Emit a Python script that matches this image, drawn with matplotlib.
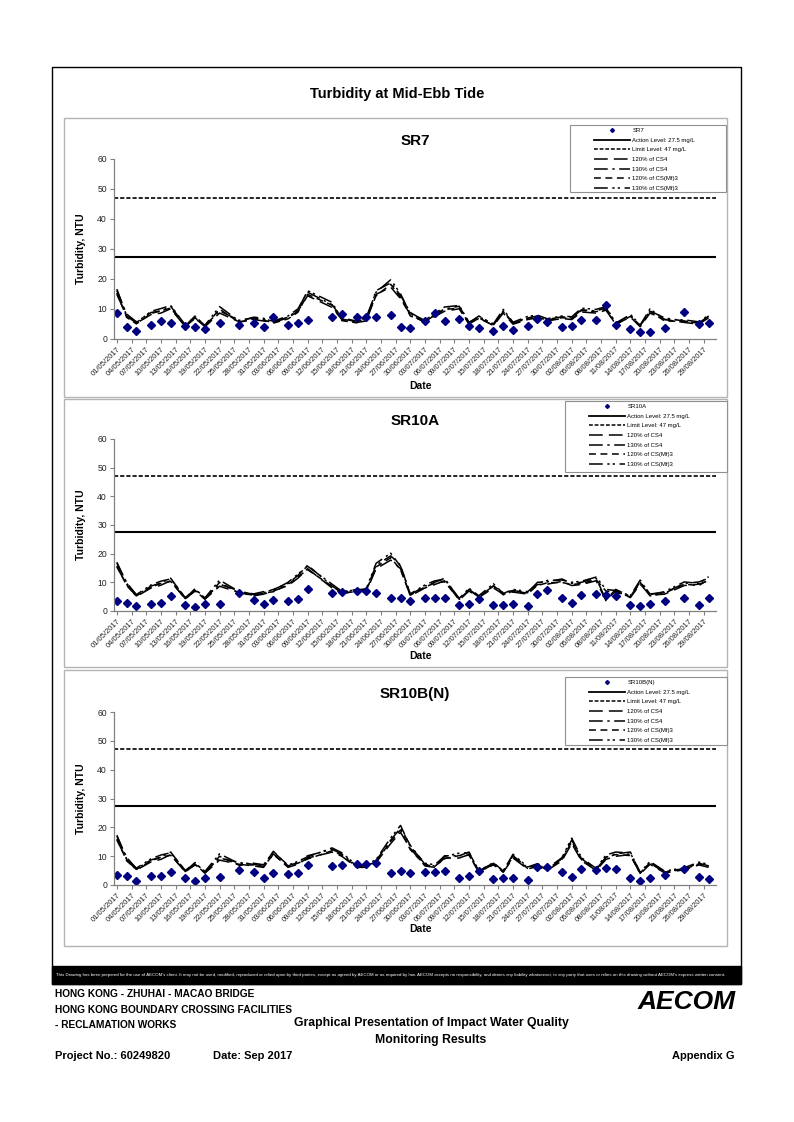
import datetime as dt
import numpy as np
import matplotlib
matplotlib.use('Agg')
import matplotlib.pyplot as plt
import matplotlib.dates as mdates
from matplotlib.lines import Line2D
from matplotlib.patches import Rectangle

plt.rcParams['font.family'] = ['Liberation Sans', 'DejaVu Sans']

# Monitoring dates (mid-ebb tide)
sample_dates = ['01/05/2017', '03/05/2017', '05/05/2017', '08/05/2017', '10/05/2017', '12/05/2017',
                '15/05/2017', '17/05/2017', '19/05/2017', '22/05/2017', '26/05/2017', '29/05/2017',
                '31/05/2017', '02/06/2017', '05/06/2017', '07/06/2017', '09/06/2017', '14/06/2017',
                '16/06/2017', '19/06/2017', '21/06/2017', '23/06/2017', '26/06/2017', '28/06/2017',
                '30/06/2017', '03/07/2017', '05/07/2017', '07/07/2017', '10/07/2017', '12/07/2017',
                '14/07/2017', '17/07/2017', '19/07/2017', '21/07/2017', '24/07/2017', '26/07/2017',
                '28/07/2017', '31/07/2017', '02/08/2017', '04/08/2017', '07/08/2017', '09/08/2017',
                '11/08/2017', '14/08/2017', '16/08/2017', '18/08/2017', '21/08/2017', '25/08/2017',
                '28/08/2017', '30/08/2017']

# Turbidity (NTU) at monitoring stations
sr7 = [8.7, 4.1, 2.8, 4.8, 5.9, 5.4, 4.5, 4.1, 3.2, 5.2, 4.6, 5.2, 3.9, 7.5, 4.8, 5.5, 6.5, 7.2, 8.2, 7.2,
       7.2, 7.5, 8.0, 3.9, 3.6, 5.9, 8.7, 5.9, 6.7, 4.5, 3.8, 2.6, 4.3, 3.0, 4.5, 6.7, 5.7, 4.1, 4.3, 6.4,
       6.5, 11.4, 4.6, 3.2, 2.2, 2.5, 3.7, 9.0, 5.1, 5.5]
sr10a = [3.6, 2.8, 1.9, 2.6, 2.7, 5.1, 2.2, 1.3, 2.5, 2.5, 6.4, 3.7, 2.6, 3.7, 3.4, 4.1, 7.6, 6.4, 6.8, 6.9,
         7.1, 6.4, 4.6, 4.6, 3.6, 4.6, 4.6, 4.7, 2.2, 2.6, 4.1, 2.2, 2.2, 2.6, 1.9, 6.1, 7.2, 4.4, 2.8, 5.5,
         6.1, 5.6, 5.4, 2.2, 1.6, 2.3, 3.4, 4.6, 2.2, 4.6]
sr10bn = [3.4, 3.1, 1.4, 3.0, 3.0, 4.4, 2.5, 1.5, 2.4, 2.7, 5.1, 4.6, 2.5, 4.3, 3.8, 4.3, 6.9, 6.6, 7.1, 7.3,
          7.3, 7.7, 4.3, 4.9, 4.0, 4.6, 4.6, 5.0, 2.5, 3.0, 4.9, 2.2, 2.4, 2.5, 1.8, 6.4, 6.4, 4.4, 2.9, 5.4,
          5.2, 5.8, 5.5, 2.3, 1.5, 2.5, 3.5, 5.5, 2.9, 2.1]

# Control station turbidity (NTU) used for each panel
cs4_sr7 = [12.4, 6.4, 4.4, 6.8, 7.2, 8.4, 3.4, 5.9, 3.4, 7.2, 4.8, 5.4, 5.0, 4.6, 5.9, 7.7, 12.0, 8.8, 5.4, 4.6,
           5.0, 12.4, 14.4, 11.2, 6.8, 4.6, 6.3, 7.7, 8.4, 4.1, 5.9, 3.7, 7.2, 4.1, 5.4, 5.9, 5.0, 5.7, 5.4, 7.5,
           7.2, 8.0, 4.1, 6.1, 3.4, 7.2, 5.4, 4.6, 4.1, 5.9]
csm3_sr7 = [12.8, 6.0, 4.2, 7.1, 7.8, 8.6, 3.6, 5.7, 3.5, 8.3, 4.6, 5.6, 5.3, 4.4, 5.6, 7.4, 12.4, 9.4, 5.1, 4.5,
            5.6, 12.0, 15.2, 11.6, 6.4, 4.8, 6.6, 8.2, 8.6, 4.3, 5.7, 3.9, 7.6, 4.3, 5.8, 6.1, 5.2, 5.9, 5.7, 7.9,
            7.6, 8.3, 4.0, 6.3, 3.6, 7.7, 5.0, 4.9, 4.4, 6.1]
cs4_sr10a = [12.8, 7.7, 4.2, 6.7, 7.5, 8.8, 3.4, 6.0, 3.4, 7.2, 5.4, 4.4, 4.9, 5.8, 7.4, 9.5, 12.3, 6.7, 5.0, 5.8,
             5.6, 12.3, 14.8, 12.3, 4.4, 6.7, 7.7, 8.8, 3.2, 5.8, 3.9, 6.7, 4.9, 5.5, 4.9, 7.7, 7.8, 8.6, 7.4, 7.7,
             8.8, 3.0, 5.8, 3.9, 7.8, 4.6, 4.9, 7.4, 7.8, 8.8]
csm3_sr10a = [13.1, 7.4, 4.4, 7.0, 8.0, 8.6, 3.6, 5.8, 3.5, 8.3, 5.2, 4.6, 5.2, 5.6, 7.7, 9.9, 12.0, 7.2, 5.3, 5.6,
              6.0, 12.8, 15.5, 12.0, 4.6, 7.0, 8.1, 8.5, 3.4, 6.1, 4.1, 7.3, 4.7, 5.8, 5.2, 7.4, 8.2, 8.3, 7.7, 8.0,
              9.1, 5.8, 5.5, 4.1, 8.3, 4.4, 5.2, 7.8, 7.4, 9.2]
cs4_sr10bn = [13.0, 7.4, 4.3, 6.7, 7.4, 8.8, 3.7, 6.0, 3.4, 7.2, 6.0, 5.5, 5.1, 9.0, 5.1, 6.0, 7.8, 9.5, 8.3, 5.1,
              5.1, 6.5, 12.0, 15.2, 10.6, 5.5, 5.1, 7.8, 7.8, 8.8, 3.7, 6.0, 3.7, 7.8, 4.6, 5.4, 4.2, 7.0, 12.0, 7.0,
              4.2, 7.4, 8.3, 8.8, 3.2, 6.0, 3.5, 4.4, 5.8, 5.1]
csm3_sr10bn = [13.3, 7.0, 4.5, 7.0, 8.0, 8.6, 3.9, 5.8, 3.6, 8.3, 5.7, 5.8, 5.4, 8.8, 5.3, 6.3, 7.5, 9.9, 8.6, 5.3,
               5.4, 6.8, 12.6, 15.9, 10.2, 5.8, 5.4, 7.6, 8.5, 8.6, 3.9, 5.8, 3.8, 8.2, 4.8, 5.7, 4.4, 7.3, 12.5, 7.3,
               4.4, 8.0, 8.8, 8.5, 3.4, 6.3, 3.7, 4.6, 6.1, 5.5]

action_level = 27.5
limit_level = 47

dates = [dt.datetime.strptime(s, '%d/%m/%Y') for s in sample_dates]
tick_dates = [dt.datetime(2017, 5, 1) + dt.timedelta(days=3 * i) for i in range(41)]

W, H = 794, 1122
fig = plt.figure(figsize=(W / 100, H / 100), dpi=100)


def fx(px):
    return px / W


def fy(py):
    return 1 - py / H


def frame(x0, y0, x1, y1, **kw):
    fig.add_artist(Rectangle((fx(x0), fy(y1)), (x1 - x0) / W, (y1 - y0) / H,
                             transform=fig.transFigure, **kw))


line_styles = [
    ('120% of CS4', (0, (9, 4))),
    ('130% of CS4', (0, (9, 3, 1.5, 3))),
    ('120% of CS(Mf)3', (0, (4.5, 3))),
    ('130% of CS(Mf)3', (0, (9, 3, 1.5, 2, 1.5, 3))),
]
navy = '#000080'


def draw_panel(name, pts, cs4, csm3, box, ax_px, leg_box, date_y):
    # grey chart frame
    frame(box[0], box[1], box[2], box[3], fill=False, ec='#b4b4b4', lw=1.0)
    ax = fig.add_axes([fx(ax_px[0]), fy(ax_px[3]), (ax_px[2] - ax_px[0]) / W,
                       (ax_px[3] - ax_px[1]) / H])
    ax.axhline(action_level, color='black', lw=1.5)
    ax.axhline(limit_level, color='black', lw=1.2, linestyle=(0, (2.5, 1.2)))
    series = [np.array(cs4) * 1.2, np.array(cs4) * 1.3,
              np.array(csm3) * 1.2, np.array(csm3) * 1.3]
    for (lab, ls), vals in zip(line_styles, series):
        ax.plot(dates, vals, color='black', lw=1.1, linestyle=ls)
    ax.plot(dates, pts, linestyle='none', marker='D', ms=3.6, color=navy)

    ax.set_ylim(0, 60)
    ax.set_yticks(range(0, 61, 10))
    ax.set_xlim(dt.datetime(2017, 4, 30, 10), dt.datetime(2017, 8, 31, 12))
    ax.set_xticks(tick_dates)
    ax.xaxis.set_major_formatter(mdates.DateFormatter('%d/%m/%Y'))
    plt.setp(ax.get_xticklabels(), rotation=45, ha='right', rotation_mode='anchor')
    ax.tick_params(axis='x', labelsize=5.5, length=3, color='#808080', pad=1.5, labelcolor='#222222')
    ax.tick_params(axis='y', labelsize=6.2, length=3, color='#808080', pad=2, labelcolor='#222222')
    for side in ['top', 'right']:
        ax.spines[side].set_visible(False)
    for side in ['left', 'bottom']:
        ax.spines[side].set_color('#808080')
        ax.spines[side].set_linewidth(0.9)
    ax.patch.set_alpha(0)
    ax.set_ylabel('Turbidity, NTU', fontsize=7.5, fontweight='bold', labelpad=8)
    ax.set_title(name, fontsize=11, fontweight='bold', pad=10)
    fig.text(fx((ax_px[0] + ax_px[2]) / 2 + 6), fy(date_y), 'Date', fontsize=7.5,
             fontweight='bold', ha='center', va='center')

    # legend box
    lx0, ly0, lx1, ly1 = leg_box
    frame(lx0, ly0, lx1, ly1, fill=True, fc='white', ec='#909090', lw=0.8, zorder=5)
    handles = [Line2D([], [], linestyle='none', marker='D', ms=2.0, color=navy),
               Line2D([], [], color='black', lw=1.3),
               Line2D([], [], color='black', lw=1.1, linestyle=(0, (2.5, 1.2)))]
    labels = [name, 'Action Level: 27.5 mg/L', 'Limit Level: 47 mg/L']
    for lab, ls in line_styles:
        handles.append(Line2D([], [], color='black', lw=1.1, linestyle=ls))
        labels.append(lab)
    leg = fig.legend(handles, labels, loc='upper left',
                     bbox_to_anchor=(fx(lx0 + 22), fy(ly0 + 1)), fontsize=4.3, frameon=False,
                     handlelength=6.0, labelspacing=0.74, borderpad=0.35,
                     handletextpad=0.4, borderaxespad=0)
    leg.set_zorder(6)
    return ax


# outer border and title
frame(52, 67, 741, 984, fill=False, ec='black', lw=1.0)
fig.text(fx(397), fy(94), 'Turbidity at Mid-Ebb Tide', fontsize=10.5, fontweight='bold',
         ha='center', va='center')

draw_panel('SR7', sr7, cs4_sr7, csm3_sr7, (64, 118, 727, 397), (114, 159, 716, 339),
           (570, 125, 726, 192), 386)
draw_panel('SR10A', sr10a, cs4_sr10a, csm3_sr10a, (64, 399, 727, 667), (114, 439, 716, 611),
           (565, 401, 727, 472), 656)
draw_panel('SR10B(N)', sr10bn, cs4_sr10bn, csm3_sr10bn, (64, 670, 727, 946), (114, 712, 716, 885),
           (565, 677, 727, 745), 929)

# disclaimer strip
frame(52, 966, 741, 984, fill=True, fc='black', ec='black', lw=1.0)
fig.text(fx(56), fy(975),
         "This Drawing has been prepared for the use of AECOM's client. It may not be used, modified, "
         "reproduced or relied upon by third parties, except as agreed by AECOM or as required by law. "
         "AECOM accepts no responsibility, and denies any liability whatsoever, to any party that uses "
         "or relies on this drawing without AECOM's express written consent.",
         fontsize=3.15, color='white', ha='left', va='center',
         family=['Liberation Sans Narrow', 'Liberation Sans'])

# title block
narrow = ['Liberation Sans Narrow', 'Liberation Sans']
for txt, y in [('HONG KONG - ZHUHAI - MACAO BRIDGE', 994),
               ('HONG KONG BOUNDARY CROSSING FACILITIES', 1010),
               ('- RECLAMATION WORKS', 1025)]:
    fig.text(fx(55), fy(y), txt, fontsize=7.3, fontweight='bold', ha='left', va='center', family=narrow)
fig.text(fx(431), fy(1023), 'Graphical Presentation of Impact Water Quality', fontsize=8.8,
         fontweight='bold', ha='center', va='center', family=narrow)
fig.text(fx(431), fy(1040), 'Monitoring Results', fontsize=8.8, fontweight='bold',
         ha='center', va='center', family=narrow)
fig.text(fx(55), fy(1056), 'Project No.: 60249820', fontsize=8, fontweight='bold',
         ha='left', va='center', family=narrow)
fig.text(fx(213), fy(1056), 'Date: Sep 2017', fontsize=8, fontweight='bold',
         ha='left', va='center', family=narrow)
fig.text(fx(735), fy(1056), 'Appendix G', fontsize=8, fontweight='bold',
         ha='right', va='center', family=narrow)
fig.text(fx(736), fy(1002), 'AECOM', fontsize=19, fontweight='heavy', style='italic',
         ha='right', va='center')

fig.savefig('out.png', dpi=100)
